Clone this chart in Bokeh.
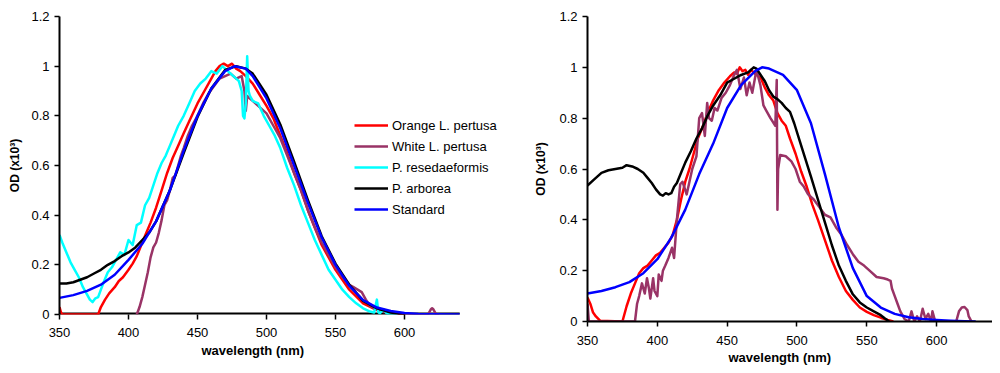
from bokeh.plotting import figure
from bokeh.models import Range1d, FixedTicker, NumeralTickFormatter, Legend, LegendItem, Title
from bokeh.layouts import row
from bokeh.embed import file_html
from bokeh.resources import INLINE

FONT = "Liberation Sans"

x_ticks = [350, 400, 450, 500, 550, 600]
y_ticks = [0, 0.2, 0.4, 0.6, 0.8, 1.0, 1.2]
x_axis_start = 350
x_axis_end = 640
x_title = "wavelength (nm)"
y_title = "OD (x10³)"
series_names = ["Orange L. pertusa", "White L. pertusa", "P. resedaeformis", "P. arborea", "Standard"]
series_colors = ["#FF0000", "#993366", "#00FFFF", "#000000", "#0000FF"]

# ---------------- left panel ----------------
L_or_wl = [350,351,352,378,380,383,386,390,393,396,400,403,406,410,413,416,420,424,428,432,436,440,445,450,455,460,463,466,469,472,475,478,481,485,490,495,500,505,510,515,520,525,530,540,550,560,570,580,590,600]
L_or_od = [0.03,0.01,0,0,0.03,0.06,0.085,0.11,0.135,0.15,0.18,0.205,0.235,0.29,0.33,0.37,0.43,0.50,0.57,0.63,0.68,0.73,0.79,0.85,0.90,0.95,0.98,1.0,1.01,1.0,1.01,0.99,0.98,0.96,0.93,0.885,0.84,0.79,0.72,0.65,0.57,0.50,0.42,0.28,0.18,0.10,0.045,0.018,0.006,0]

L_wh_wl = [406,408,410,412,414,416,418,420,422,424,426,428,430,432,434,436,438,440,
           443,446,450,454,458,462,466,470,474,478,482,
           484,485,486,488,490,494,
           500,505,510,515,520,525,530,535,540,545,550,555,560,
           563,566,569,572,575,580,585,590,595,600,
           617,619,620,621,623,625]
L_wh_od = [0,0.03,0.07,0.12,0.17,0.23,0.27,0.29,0.33,0.38,0.44,0.46,0.50,0.55,0.56,0.60,0.64,0.67,
           0.72,0.76,0.80,0.85,0.89,0.92,0.95,0.96,0.97,0.95,0.96,
           0.90,0.82,0.88,0.87,0.86,0.84,
           0.81,0.76,0.71,0.64,0.57,0.50,0.42,0.35,0.29,0.24,0.19,0.15,0.12,
           0.11,0.10,0.09,0.06,0.035,0.02,0.01,0.008,0.004,0,
           0,0.02,0.025,0.02,0,0]

L_cy_wl = [350,352,355,358,361,364,367,370,372,374,376,378,380,382,385,388,391,394,397,400,
           403,406,409,412,415,418,421,424,427,430,433,436,440,444,448,452,456,460,464,468,
           472,476,480,482,483,484,485,486,487,488,490,494,498,502,506,510,515,520,525,530,
           535,540,545,550,555,560,565,570,575,578,580,581,582,585,587,590,595]
L_cy_od = [0.32,0.29,0.25,0.21,0.18,0.15,0.11,0.08,0.06,0.05,0.065,0.07,0.10,0.13,0.17,0.19,0.22,0.25,0.24,0.30,
           0.28,0.36,0.37,0.44,0.47,0.52,0.57,0.61,0.64,0.68,0.72,0.76,0.80,0.85,0.90,0.93,0.95,0.98,0.97,1.0,
           0.98,0.96,0.94,0.90,0.80,0.79,0.85,1.04,0.90,0.88,0.86,0.85,0.80,0.76,0.72,0.67,0.59,0.52,0.44,0.37,
           0.30,0.24,0.18,0.14,0.10,0.07,0.045,0.025,0.012,0.008,0.06,0.01,0.005,0.02,0.005,0.0,0.0]

L_ar_wl = [350,355,360,365,370,375,380,385,390,395,400,405,410,415,420,430,440,450,460,470,478,485,490,500,510,520,530,540,550,560,570,580,590,600]
L_ar_od = [0.125,0.125,0.13,0.14,0.15,0.165,0.18,0.20,0.215,0.235,0.25,0.27,0.30,0.33,0.375,0.50,0.65,0.795,0.91,0.985,1.0,0.99,0.97,0.885,0.765,0.615,0.46,0.315,0.205,0.12,0.055,0.025,0.008,0.0]

L_st_wl = [350,360,370,380,390,400,410,420,430,440,450,460,470,477,485,490,500,510,520,530,540,550,560,570,580,590,600,610,620,640]
L_st_od = [0.067,0.078,0.095,0.12,0.16,0.22,0.285,0.375,0.50,0.66,0.80,0.91,0.98,1.0,0.99,0.96,0.87,0.75,0.60,0.45,0.31,0.20,0.115,0.058,0.028,0.014,0.006,0.002,0.001,0.0]

# ---------------- right panel ----------------
R_or_wl = [350,352,354,356,359,375,378,381,384,387,390,393,396,399,402,405,408,411,414,417,420,423,426,429,432,436,440,444,448,452,455,457,459,461,463,465,467,469,471,474,477,480,483,486,489,492,495,499,503,507,511,515,520,525,530,535,540,545,550,555,560,565,569]
R_or_od = [0.094,0.07,0.035,0.02,0.003,0.0,0.06,0.11,0.15,0.19,0.21,0.22,0.24,0.26,0.27,0.29,0.31,0.34,0.40,0.48,0.55,0.60,0.66,0.72,0.76,0.82,0.87,0.91,0.94,0.965,0.98,0.975,1.0,0.985,0.99,0.97,0.99,0.98,0.97,0.96,0.92,0.89,0.87,0.82,0.79,0.77,0.72,0.66,0.59,0.53,0.46,0.40,0.32,0.24,0.175,0.12,0.085,0.055,0.038,0.025,0.015,0.006,0.0]

R_wh_wl = [350,351,384,385.5,387,389,391,392.6,394,395,
           397,398,400,401,403,404,405.7,408,410.5,412,
           414,416.4,418,421,423,425,428,430,432,434,
           435.7,437,439,441,443,446,449,452,455,457,
           459.5,462,464,466,468,471,473.8,476,478,481,
           484.5,485.5,486,486.5,488,492,496,499,502,505,
           508,512,516,520,524,528,532,536,540,544,
           548,552,557,562,565,567,568,570,572,574,
           577,580,582,584,586,588,590,592,594,596,
           597,599,601,614,616,618,620,622,623,625]
R_wh_od = [0.07,0.0,0.0,0.07,0.10,0.15,0.11,0.17,0.13,0.09,
           0.17,0.12,0.10,0.185,0.16,0.20,0.22,0.25,0.29,0.25,
           0.40,0.54,0.55,0.50,0.55,0.60,0.65,0.80,0.82,0.73,
           0.86,0.80,0.79,0.84,0.83,0.88,0.90,0.93,0.97,0.99,
           0.915,0.96,0.89,0.94,0.90,0.99,0.93,0.85,0.83,0.80,
           0.77,0.95,0.44,0.60,0.655,0.65,0.63,0.60,0.55,0.53,
           0.50,0.48,0.45,0.42,0.41,0.37,0.34,0.30,0.265,0.235,
           0.22,0.20,0.175,0.17,0.165,0.16,0.13,0.10,0.07,0.04,
           0.01,0.0,0.04,0.0,0.02,0.0,0.05,0.01,0.03,0.0,
           0.04,0.0,0.0,0.0,0.04,0.055,0.057,0.045,0.02,0.0]

R_ar_wl = [350,355,360,365,370,375,378,382,386,390,
           393,396,399,402,404,406,408,410,412,414,
           417,420,424,428,432,436,440,445,450,455,
           460,465,469,471,474,477,480,483,486,489,
           492,495,498,502,506,510,515,520,525,530,
           535,540,545,550,555,560,563,566]
R_ar_od = [0.535,0.56,0.585,0.595,0.60,0.605,0.615,0.61,0.60,0.585,
           0.565,0.545,0.52,0.50,0.495,0.505,0.50,0.505,0.53,0.545,
           0.585,0.625,0.67,0.72,0.76,0.81,0.85,0.89,0.94,0.955,
           0.97,0.98,1.0,0.995,0.97,0.945,0.91,0.885,0.875,0.86,
           0.84,0.825,0.78,0.71,0.64,0.57,0.48,0.39,0.30,0.22,
           0.16,0.107,0.075,0.055,0.04,0.025,0.012,0.0]

R_st_wl = [350,360,370,380,390,400,410,420,430,440,450,460,470,475,480,490,500,510,520,530,540,550,560,570,580,590,600,610,620,628]
R_st_od = [0.11,0.12,0.135,0.155,0.19,0.245,0.33,0.44,0.58,0.70,0.84,0.93,0.985,1.0,0.995,0.97,0.91,0.78,0.58,0.37,0.21,0.10,0.055,0.03,0.017,0.01,0.006,0.003,0.001,0.0]


def make_fig(width, height, x_end, bl, br, bt, bb, y_standoff, lab_standoff, title_offset, title_standoff):
    p = figure(width=width, height=height,
               x_range=Range1d(x_axis_start, x_end), y_range=Range1d(0, 1.2),
               output_backend="svg", toolbar_location=None,
               min_border_left=bl, min_border_right=br,
               min_border_top=bt, min_border_bottom=bb)
    p.outline_line_color = None
    p.grid.visible = False
    p.background_fill_color = "white"
    p.border_fill_color = "white"
    for ax in p.axis:
        ax.axis_line_color = "black"
        ax.axis_line_width = 2
        ax.major_tick_line_color = "black"
        ax.major_tick_line_width = 1.5
        ax.major_tick_out = 5
        ax.major_tick_in = 0
        ax.minor_tick_line_color = None
        ax.major_label_text_font = FONT
        ax.major_label_text_font_size = "13px"
        ax.major_label_text_color = "black"
        ax.axis_label_text_font = FONT
        ax.axis_label_text_font_style = "bold"
        ax.axis_label_text_font_size = "12px"
        ax.axis_label_text_color = "black"
    p.xaxis.ticker = FixedTicker(ticks=x_ticks)
    p.yaxis.ticker = FixedTicker(ticks=y_ticks)
    p.yaxis.formatter = NumeralTickFormatter(format="0.[0]")
    p.yaxis.axis_label = y_title
    p.yaxis.axis_label_standoff = y_standoff
    p.xaxis.major_label_standoff = lab_standoff
    # x axis title as a panel title, positioned like the original (not frame-centred)
    t = Title(text=x_title, align="left", offset=title_offset, standoff=title_standoff,
              text_font=FONT, text_font_size="13px", text_font_style="bold", text_color="black")
    p.add_layout(t, "below")
    return p


def draw(p, wl, od, color):
    return p.line(wl, od, line_color=color, line_width=2.5, line_join="round")


# Left panel: frame is widened to the right so that the legend (which overlaps
# the plot edge in the original) is not clipped; the x axis line is drawn only
# over the 350-640 nm span like in the original.
p1 = make_fig(530, 364, 691.3, 59, 0, 16, 50, 6, 8, 142, 2)
p1.xaxis.axis_line_color = None
p1.line([x_axis_start, x_axis_end], [0, 0], line_color="black", line_width=4)
r1 = [
    draw(p1, L_or_wl, L_or_od, series_colors[0]),
    draw(p1, L_wh_wl, L_wh_od, series_colors[1]),
    draw(p1, L_cy_wl, L_cy_od, series_colors[2]),
    draw(p1, L_ar_wl, L_ar_od, series_colors[3]),
    draw(p1, L_st_wl, L_st_od, series_colors[4]),
]
legend = Legend(items=[LegendItem(label=n, renderers=[r]) for n, r in zip(series_names, r1)],
                location=(295, 95), glyph_width=34, glyph_height=20, label_height=20,
                spacing=1, padding=0, margin=0, label_standoff=4,
                label_text_font=FONT, label_text_font_size="13px", label_text_color="black",
                border_line_color=None, background_fill_alpha=0)
p1.add_layout(legend)

p2 = make_fig(462, 371, x_axis_end, 57, 0, 14, 50, 8, 9, 141, 1)
draw(p2, R_or_wl, R_or_od, series_colors[0])
draw(p2, R_wh_wl, R_wh_od, series_colors[1])
draw(p2, R_ar_wl, R_ar_od, series_colors[3])
draw(p2, R_st_wl, R_st_od, series_colors[4])

layout = row(p1, p2)
open("out.html", "w").write(file_html(layout, INLINE))
